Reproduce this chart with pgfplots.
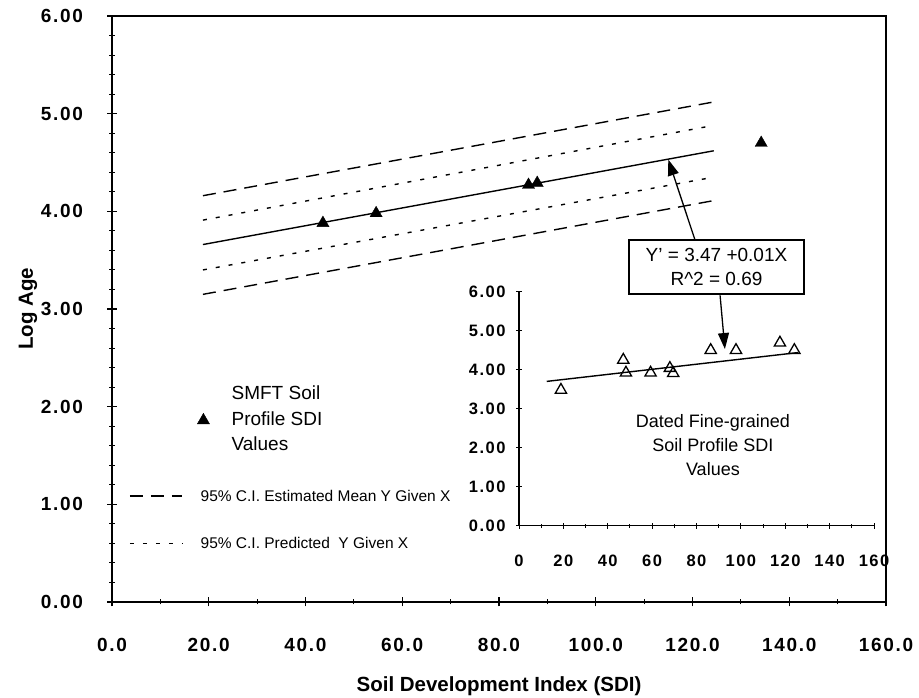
\documentclass[border=0pt]{standalone}
\usepackage{fontspec}
\setmainfont{Liberation Sans}
\newfontfamily\tickfont[LetterSpace=9]{Liberation Sans}
\usepackage{pgfplots}
\pgfplotsset{compat=1.18}
\usetikzlibrary{arrows.meta}

\tikzset{
  cimean/.style={black, line width=1.4pt, dash pattern=on 13pt off 8pt},
  cipred/.style={black, line width=1.4pt, dash pattern=on 4pt off 9pt},
  fit/.style={black, line width=1.4pt},
  callout/.style={-{Triangle[length=16pt,width=11pt]}, line width=1.3pt, black},
}

\begin{document}
\begin{tikzpicture}
\useasboundingbox (0,0) rectangle (919pt,698pt);

% main chart: SMFT soil profiles with regression and 95% bands
\begin{axis}[
  name=main,
  at={(112pt,96pt)}, anchor=south west,
  scale only axis, width=774pt, height=586pt,
  xmin=0, xmax=160, ymin=0, ymax=6,
  xtick={0,20,...,160}, minor x tick num=1,
  ytick={0,1,...,6}, minor y tick num=4,
  xtick pos=bottom, ytick pos=left,
  tick align=center,
  major tick length=9pt, minor tick length=5pt,
  tick style={black, line width=1.1pt},
  axis line style={line width=1.2pt},
  /pgf/number format/assume math mode=true,
  tick label style={font=\tickfont\bfseries\fontsize{19}{22}\selectfont},
  xticklabel style={/pgf/number format/.cd, fixed, fixed zerofill, precision=1},
  yticklabel style={/pgf/number format/.cd, fixed, fixed zerofill, precision=2},
  xticklabel shift=28pt, yticklabel shift=21pt,
  xlabel={Soil Development Index (SDI)},
  ylabel={Log Age},
  label style={font=\bfseries\fontsize{20.5}{24}\selectfont},
  xlabel style={at={(axis description cs:0.5,-0.1433)}, anchor=center},
  ylabel style={at={(axis description cs:-0.1085,0.5)}, anchor=center},
  clip=false,
]
\addplot[cimean] coordinates {(18.8,4.16) (124.4,5.12)};
\addplot[cipred] coordinates {(18.8,3.91) (124.4,4.88)};
\addplot[fit] coordinates {(18.8,3.66) (124.4,4.62)};
\addplot[cipred] coordinates {(18.8,3.40) (124.4,4.35)};
\addplot[cimean] coordinates {(18.8,3.15) (124.4,4.11)};

\addplot[only marks, mark=triangle*, mark size=7pt, black]
  coordinates {(43.6,3.88) (54.6,3.98) (86.1,4.27) (87.9,4.29) (134.2,4.70)};

% legend, drawn by hand inside the plot area
\addplot[only marks, mark=triangle*, mark size=7pt, black] coordinates {(18.9,1.86)};
\node[anchor=west, align=left, font=\fontsize{19}{25.6}\selectfont]
  at (axis cs:24.0,1.88) {SMFT Soil\\Profile SDI\\Values};
\addplot[cimean] coordinates {(3.7,1.085) (14.5,1.085)};
\node[anchor=west, font=\fontsize{15.5}{18}\selectfont]
  at (axis cs:17.6,1.085) {95\% C.I. Estimated Mean Y Given X};
\addplot[cipred] coordinates {(3.7,0.60) (14.5,0.60)};
\node[anchor=west, font=\fontsize{15.5}{18}\selectfont]
  at (axis cs:17.6,0.60) {95\% C.I. Predicted\ \ Y Given X};

% equation box and its two arrows
\draw[callout] (axis cs:120.5,3.71) -- (axis cs:115.0,4.53);
\draw[callout] (axis cs:125.7,3.14) -- (axis cs:126.7,2.59);
\node[draw, line width=1.1pt, fill=white, minimum width=175pt, minimum height=54pt,
  align=center, font=\fontsize{19}{24}\selectfont]
  at (axis cs:124.96,3.43) {Y' = 3.47 +0.01X\\R\textasciicircum 2 = 0.69};
\end{axis}

% inset: dated fine-grained profiles
\begin{axis}[
  at={(519pt,172.3pt)}, anchor=south west,
  scale only axis, width=355pt, height=234pt,
  xmin=0, xmax=160, ymin=0, ymax=6,
  axis lines=left, axis line style={-, line width=1.2pt},
  xtick={0,20,...,160}, minor x tick num=1,
  ytick={0,1,...,6},
  tick align=center,
  major tick length=6pt, minor tick length=4pt,
  tick style={black, line width=1pt},
  /pgf/number format/assume math mode=true,
  tick label style={font=\tickfont\bfseries\fontsize{16.5}{20}\selectfont},
  xticklabel style={/pgf/number format/.cd, fixed, precision=0},
  yticklabel style={/pgf/number format/.cd, fixed, fixed zerofill, precision=2},
  xticklabel shift=23pt, yticklabel shift=7pt,
  clip=false,
]
\addplot[fit] coordinates {(12.5,3.70) (125.9,4.44)};
\addplot[only marks, mark=triangle, mark size=6.5pt, black, mark options={line width=1.3pt}]
  coordinates {(18.9,3.48) (47.0,4.25) (48.2,3.92) (59.3,3.92) (68.0,4.04)
               (69.5,3.91) (86.4,4.50) (97.8,4.50) (117.6,4.69) (124.1,4.50)};
\node[align=center, font=\fontsize{18}{24}\selectfont]
  at (axis cs:87.4,2.07) {Dated Fine-grained\\Soil Profile SDI\\Values};
\end{axis}
\end{tikzpicture}
\end{document}
